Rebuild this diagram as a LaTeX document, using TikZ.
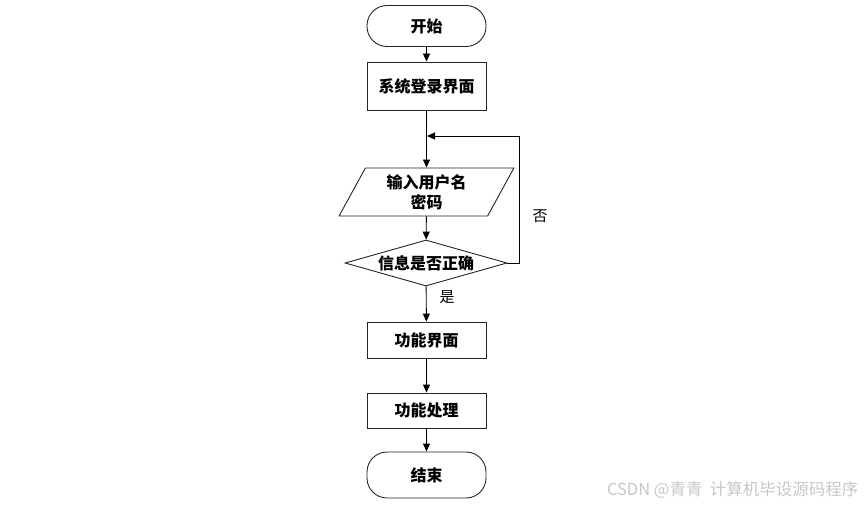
\documentclass[tikz,border=0pt]{standalone}
\usepackage{fontspec}
\newfontfamily\cjk{Noto Sans CJK SC}
\usetikzlibrary{arrows.meta,shapes.geometric}
\begin{document}
\begin{tikzpicture}[x=1pt,y=-1pt,
  box/.style={draw=black!85,line width=0.9pt,fill=white,minimum width=119pt,inner sep=0pt,font=\cjk\bfseries\fontsize{16}{20}\selectfont},
  term/.style={box,rounded corners=20pt},
  io/.style={box,trapezium,trapezium left angle=64,trapezium right angle=116,trapezium stretches=true,minimum width=175pt,minimum height=48pt,align=center},
  cond/.style={box,diamond,aspect=3.5,minimum width=162pt,minimum height=46pt},
  line/.style={line width=0.9pt,-{Triangle[length=8pt,width=7pt]}},
  lbl/.style={font=\cjk\fontsize{15}{17}\selectfont}]
\useasboundingbox (0,0) rectangle (866,505);
\node[term,minimum height=41pt] (start) at (426.5,26) {开始};
\node[box,minimum height=48pt] (login) at (426.5,86) {系统登录界面};
\node[io] (input) at (426.5,192) {输入用户名\\密码};
\node[cond] (check) at (426,263) {信息是否正确};
\node[box,minimum height=36pt] (func) at (426.5,340) {功能界面};
\node[box,minimum height=35pt] (proc) at (426.5,410.5) {功能处理};
\node[term,minimum height=46pt] (stop) at (426.5,475) {结束};
\coordinate (back) at (427,136);

\draw[line] (start) -- (login);
\draw[line] (login) -- (input);
\draw[line] (input) -- (check);
\draw[line] (check) -- (func);
\draw[line] (func) -- (proc);
\draw[line] (proc) -- (stop);
\draw[line] (check.east) -- ++(12,0) |- (back);
\node[lbl] (no) at (540,216) {否};
\node[lbl] (yes) at (447,297) {是};

\node[font=\cjk\fontsize{16.5}{18}\selectfont,text=black!22,anchor=east] (mark) at (862,490) {CSDN @青青\ \ 计算机毕设源码程序};
\end{tikzpicture}
\end{document}
